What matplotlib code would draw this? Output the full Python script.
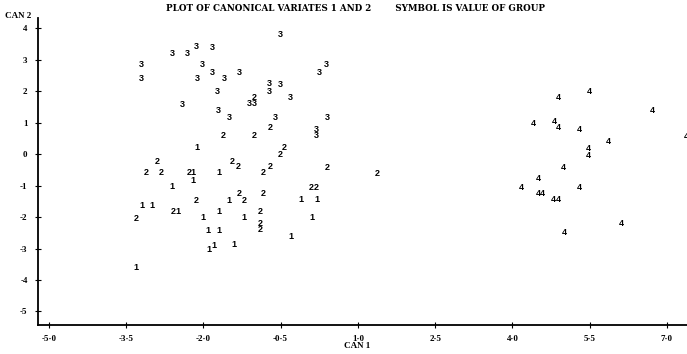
import matplotlib.pyplot as plt

# canonical variate scores
g1_x = [-2.13, -2.20, -2.20, -1.70, -2.61, -1.50, -0.11, 0.20, -3.19, -3.00, -2.50,
        -2.01, -1.70, -1.21, 0.11, -1.91, -1.70, -0.30, -1.89, -1.80, -1.41, -3.31]
g1_y = [0.22, -0.60, -0.83, -0.60, -1.02, -1.46, -1.43, -1.43, -1.62, -1.62, -1.84,
        -2.03, -1.84, -2.03, -2.00, -2.44, -2.44, -2.63, -3.02, -2.89, -2.86, -3.59]

g2_x = [-1.02, -0.71, -1.62, -1.02, -0.42, -0.51, -2.90, -3.10, -2.81, -2.28, -1.43,
        -1.33, -0.83, -0.71, 0.40, 0.09, 0.20, -2.13, -1.31, -1.21, -0.83, -2.59,
        -3.31, -0.90, -0.90, -0.90, 1.37]
g2_y = [1.81, 0.83, 0.60, 0.60, 0.22, 0.00, -0.22, -0.60, -0.60, -0.60, -0.22,
        -0.41, -0.60, -0.41, -0.44, -1.05, -1.05, -1.46, -1.24, -1.46, -1.24, -1.84,
        -2.06, -1.84, -2.19, -2.41, -0.63]

g3_x = [-0.51, -2.61, -2.32, -2.13, -1.82, -3.21, -3.21, -2.01, -1.82, -1.60, -1.31,
        -2.11, 0.26, 0.38, -0.71, -0.71, -0.51, -1.72, -0.32, -1.10, -1.00, -2.40,
        -1.70, -1.49, -0.61, 0.40, 0.20, 0.20]
g3_y = [3.81, 3.21, 3.21, 3.43, 3.40, 2.86, 2.41, 2.86, 2.60, 2.41, 2.60,
        2.41, 2.60, 2.86, 2.25, 2.00, 2.22, 2.00, 1.81, 1.62, 1.62, 1.59,
        1.40, 1.17, 1.17, 1.17, 0.79, 0.60]

g4_x = [5.49, 4.90, 6.71, 4.40, 4.81, 4.90, 5.29, 7.37, 5.87, 5.47, 5.47,
        4.98, 4.50, 4.18, 5.29, 4.50, 4.59, 4.79, 4.90, 6.11, 5.00]
g4_y = [2.00, 1.81, 1.40, 0.98, 1.02, 0.83, 0.79, 0.57, 0.41, 0.19, -0.03,
        -0.44, -0.79, -1.05, -1.05, -1.24, -1.24, -1.43, -1.43, -2.22, -2.48]

groups = [("1", g1_x, g1_y), ("2", g2_x, g2_y), ("3", g3_x, g3_y), ("4", g4_x, g4_y)]

x_ticks = [-5.0, -3.5, -2.0, -0.5, 1.0, 2.5, 4.0, 5.5, 7.0]
x_labels = ["-5·0", "-3·5", "-2·0", "-0·5", "1·0", "2·5", "4·0", "5·5", "7·0"]
y_ticks = [4, 3, 2, 1, 0, -1, -2, -3, -4, -5]
y_labels = ["4", "3", "2", "1", "0", "-1", "-2", "-3", "-4", "-5"]

plt.rcParams['font.family'] = ['Liberation Serif', 'DejaVu Serif']

fig = plt.figure(figsize=(6.87, 3.54), dpi=100)
ax = fig.add_axes([0.0553, 0.0819, 0.9447, 0.867])

for sym, xs, ys in groups:
    for x, y in zip(xs, ys):
        ax.text(x, y, sym, ha='center', va='center', fontsize=6.5,
                fontweight='bold', family='Liberation Sans', clip_on=True)

ax.set_xlim(-5.21, 7.39)
ax.set_ylim(-5.43, 4.32)
ax.set_xticks(x_ticks)
ax.set_xticklabels(x_labels)
ax.set_yticks(y_ticks)
ax.set_yticklabels(y_labels)
ax.tick_params(direction='inout', length=5, width=0.8, labelsize=6.5, pad=5)
for lab in ax.get_xticklabels() + ax.get_yticklabels():
    lab.set_fontweight('bold')

ax.spines['top'].set_visible(False)
ax.spines['right'].set_visible(False)
ax.spines['left'].set_linewidth(1.3)
ax.spines['bottom'].set_linewidth(1.3)

fig.text(0.52, 0.022, "CAN 1", ha='center', va='center', fontsize=6.5, fontweight='bold')
fig.text(0.518, 0.977, "PLOT OF CANONICAL VARIATES 1 AND 2        SYMBOL IS VALUE OF GROUP",
         ha='center', va='center', fontsize=6.3, fontweight='bold', family='DejaVu Serif')
fig.text(0.008, 0.955, "CAN 2", ha='left', va='center', fontsize=6.5, fontweight='bold')

fig.savefig("out.png", dpi=100)
